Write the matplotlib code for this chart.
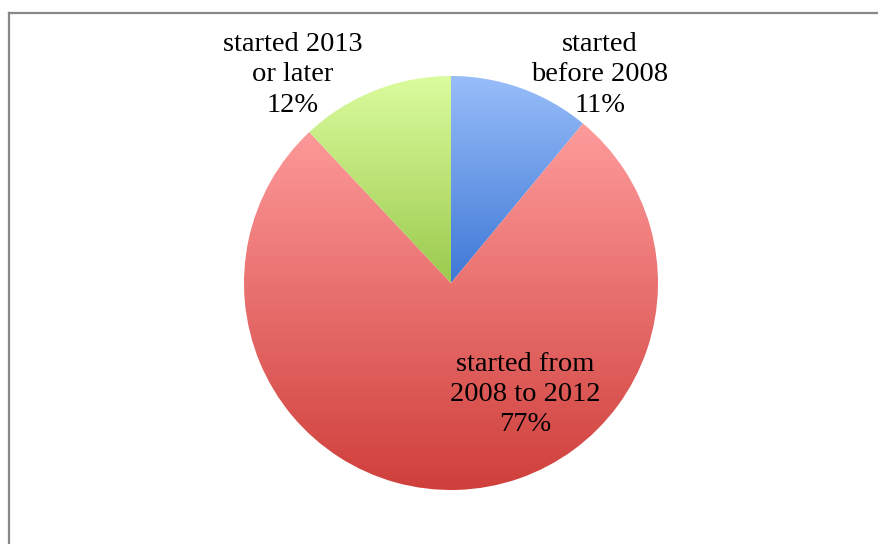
import numpy as np
import matplotlib
matplotlib.use("Agg")
import matplotlib.pyplot as plt
from matplotlib.colors import LinearSegmentedColormap
from matplotlib.lines import Line2D

categories = ["started\nbefore 2008", "started from\n2008 to 2012", "started 2013\nor later"]
values = [11, 77, 12]
top_colors = ["#98bdf9", "#fe9b9b", "#dbfc9e"]
bottom_colors = ["#3e78d6", "#cf3f3b", "#9bca4d"]

W, H = 879, 544
fig = plt.figure(figsize=(W / 100, H / 100), dpi=100)
cx, cy, r = 451, 283, 207
ax = fig.add_axes([(cx - r) / W, (H - cy - r) / H, 2 * r / W, 2 * r / H])
ax.axis("off")

wedges, _ = ax.pie(values, startangle=90, counterclock=False, radius=1,
                   colors=["none"] * 3, wedgeprops=dict(linewidth=0))

for w, ct, cb in zip(wedges, top_colors, bottom_colors):
    verts = w.get_patch_transform().transform(w.get_path().vertices)
    ymin, ymax = verts[:, 1].min(), verts[:, 1].max()
    xmin, xmax = verts[:, 0].min(), verts[:, 0].max()
    cmap = LinearSegmentedColormap.from_list("g", [cb, ct])
    grad = np.linspace(0, 1, 256).reshape(-1, 1)
    im = ax.imshow(grad, cmap=cmap, origin="lower", aspect="auto",
                   extent=[xmin, xmax, ymin, ymax], interpolation="bilinear")
    im.set_clip_path(w)

ax.set_xlim(-1, 1)
ax.set_ylim(-1, 1)

labels = [f"{c}\n{v}%" for c, v in zip(categories, values)]
label_pos = [(0.72, 1.005), (0.357, -0.537), (-0.763, 1.005)]
for lab, (x, y) in zip(labels, label_pos):
    ax.text(x, y, lab, ha="center", va="center", fontsize=20.5,
            family="Liberation Serif", linespacing=1.27, clip_on=False)

fig.add_artist(Line2D([9 / W, 1], [1 - 13 / H, 1 - 13 / H], color="#888888", lw=1.6,
                      transform=fig.transFigure))
fig.add_artist(Line2D([9 / W, 9 / W], [0, 1 - 13 / H], color="#888888", lw=1.6,
                      transform=fig.transFigure))

fig.savefig("out.png", dpi=100, facecolor="white")
